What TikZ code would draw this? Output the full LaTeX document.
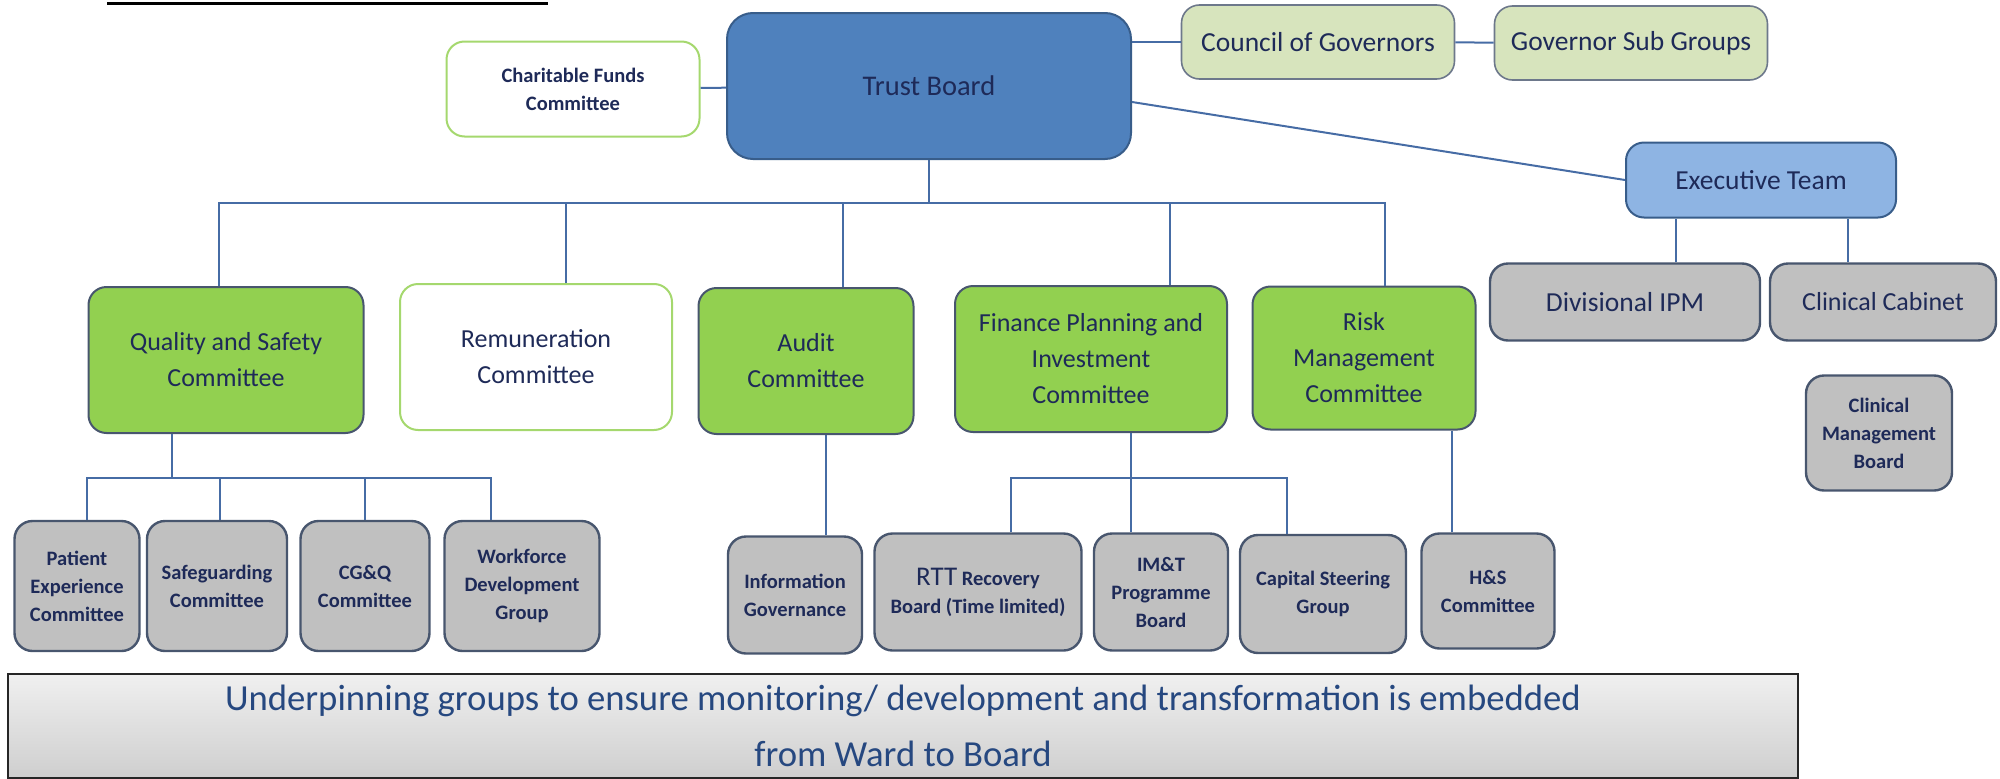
\documentclass[tikz,border=0pt]{standalone}
\usepackage{fontspec}
\setmainfont{Carlito}
\definecolor{boardblue}{RGB}{79,129,189}
\definecolor{boardline}{RGB}{56,93,138}
\definecolor{txtblue}{RGB}{30,42,88}
\definecolor{comgreen}{RGB}{146,208,80}
\definecolor{edgegrey}{RGB}{72,86,110}
\definecolor{lightgreen}{RGB}{165,216,110}
\definecolor{govgreen}{RGB}{215,228,189}
\definecolor{execblue}{RGB}{142,180,227}
\definecolor{subgrey}{RGB}{192,192,192}
\definecolor{linkblue}{RGB}{70,108,165}
\definecolor{notetext}{RGB}{38,72,128}
\newcommand{\boxfont}{\fontsize{26}{36}\selectfont}
\newcommand{\headfont}{\fontsize{27.5}{36}\selectfont}
\newcommand{\subfont}{\fontsize{20.5}{28}\selectfont\bfseries}
\newcommand{\notefont}{\fontsize{36.7}{56}\selectfont}

\begin{document}
\begin{tikzpicture}[x=1pt, y=-1pt,
  box/.style={draw=edgegrey, line width=2pt, rounded corners=18pt, align=center,
    inner sep=0pt, text=txtblue, font=\boxfont},
  board/.style={box, draw=boardline, fill=boardblue, rounded corners=26pt},
  greenbox/.style={box, fill=comgreen, minimum height=146pt},
  whitebox/.style={box, draw=lightgreen, fill=white},
  govbox/.style={box, draw=edgegrey!80, fill=govgreen, line width=1.6pt, font=\headfont,
    minimum width=273pt, minimum height=74pt},
  execbox/.style={box, fill=execblue, draw=boardline, font=\headfont},
  greybox/.style={box, fill=subgrey, line width=2.4pt, font=\subfont},
  link/.style={draw=linkblue, line width=2pt}]
\useasboundingbox (0,0) rectangle (2000,779);
 % top frame fragment:
\draw[line width=3pt] (107,3) -- (548,3);
 % trust board:
\node[board, font=\fontsize{28.5}{36}\selectfont, minimum width=404pt, minimum height=146pt] (tb) at (929,86) {Trust Board};
\node[whitebox, font=\subfont, minimum width=253pt, minimum height=95pt] (cf) at (573,89)
  {Charitable Funds\\Committee};
\draw[link] (cf) -- (tb);
 % governors:
\node[govbox] (cog) at (1318,42) {Council of Governors};
\node[govbox] (gsg) at (1631,43) {Governor Sub Groups};
\draw[link] (cog.west -| tb.east) -- (cog.west);
\draw[link] (cog) -- (gsg);
 % executive team:
\node[execbox, minimum width=270pt, minimum height=75pt] (et) at (1761,180) {Executive Team};
\draw[link] ([yshift=-16pt]tb.east) -- (et.west);
\node[greybox, font=\headfont, minimum width=270pt, minimum height=77pt] (dipm) at (1625,302) {Divisional IPM};
\node[greybox, font=\boxfont, minimum width=226pt, minimum height=77pt] (cc) at (1883,302) {Clinical Cabinet};
\node[greybox, minimum width=146pt, minimum height=115pt] (cmb) at (1879,433) {Clinical\\Management\\Board};
\draw[link] ([xshift=51pt]dipm.north) -- ([xshift=51pt]dipm.north |- et.south);
\draw[link] ([xshift=-35pt]cc.north) -- ([xshift=-35pt]cc.north |- et.south);
 % committees:
\node[greenbox, minimum width=275pt] (qs) at (226,360) {Quality and Safety\\Committee};
\node[whitebox, minimum width=272pt, minimum height=146pt] (rem) at (536,357) {Remuneration\\Committee};
\node[greenbox, minimum width=215pt] (aud) at (806,361) {Audit\\Committee};
\node[greenbox, minimum width=272pt] (fin) at (1091,359) {Finance Planning and\\Investment\\Committee};
\node[greenbox, minimum width=223pt, minimum height=143pt] (risk) at (1364,358) {Risk\\Management\\Committee};
\coordinate (bus) at (925,203);
\draw[link] (tb.south) -- (tb.south |- bus);
\draw[link] ([xshift=-7pt]qs.north) |- ([xshift=21pt]risk.north |- bus) -- ([xshift=21pt]risk.north);
\foreach \n/\dx in {rem/30, aud/37, fin/79}
  \draw[link] ([xshift=\dx pt]\n.north) -- ([xshift=\dx pt]\n.north |- bus);
 % underpinning groups:
\node[greybox, minimum width=125pt, minimum height=130pt] (pec) at (77,586) {Patient\\Experience\\Committee};
\node[greybox, minimum width=140pt, minimum height=130pt] (sc) at (217,586) {Safeguarding\\Committee};
\node[greybox, minimum width=129pt, minimum height=130pt] (cgq) at (365,586) {CG\&Q\\Committee};
\node[greybox, minimum width=155pt, minimum height=130pt] (wdg) at (522,586) {Workforce\\Development\\Group};
\node[greybox, minimum width=134pt, minimum height=117pt] (ig) at (795,595) {Information\\Governance};
\node[greybox, minimum width=207pt, minimum height=117pt] (rtt) at (978,592)
  {{\fontsize{27}{28}\selectfont\mdseries RTT} Recovery\\Board (Time limited)};
\node[greybox, minimum width=134pt, minimum height=117pt] (imt) at (1161,592) {IM\&T\\Programme\\Board};
\node[greybox, minimum width=166pt, minimum height=118pt] (csg) at (1323,594) {Capital Steering\\Group};
\node[greybox, minimum width=133pt, minimum height=115pt] (hs) at (1488,591) {H\&S\\Committee};
\coordinate (subbus) at (0,478);
\draw[link] ([xshift=-54pt]qs.south) -- ([xshift=-54pt]qs.south |- subbus);
\draw[link] ([xshift=10pt]pec.north) |- ([xshift=-31pt]wdg.north |- subbus) -- ([xshift=-31pt]wdg.north);
\foreach \n/\dx in {sc/3, cgq/0}
  \draw[link] ([xshift=\dx pt]\n.north) -- ([xshift=\dx pt]\n.north |- subbus);
\draw[link] ([xshift=20pt]aud.south) -- ([xshift=31pt]ig.north);
\draw[link] ([xshift=40pt]fin.south) -- ([xshift=-30pt]imt.north);
\draw[link] ([xshift=33pt]rtt.north) |- ([xshift=-36pt]csg.north |- subbus) -- ([xshift=-36pt]csg.north);
\draw[link] ([xshift=88pt]risk.south) -- ([xshift=-36pt]hs.north);
 % banner:
\node[draw=black!85, line width=2.6pt, top color=gray!12, bottom color=gray!38,
  minimum width=1790pt, minimum height=104pt, inner sep=0pt, align=center,
  text=notetext, font=\notefont] (note) at (903,726)
  {Underpinning groups to ensure monitoring/ development and transformation is embedded\\from Ward to Board};
\end{tikzpicture}
\end{document}
